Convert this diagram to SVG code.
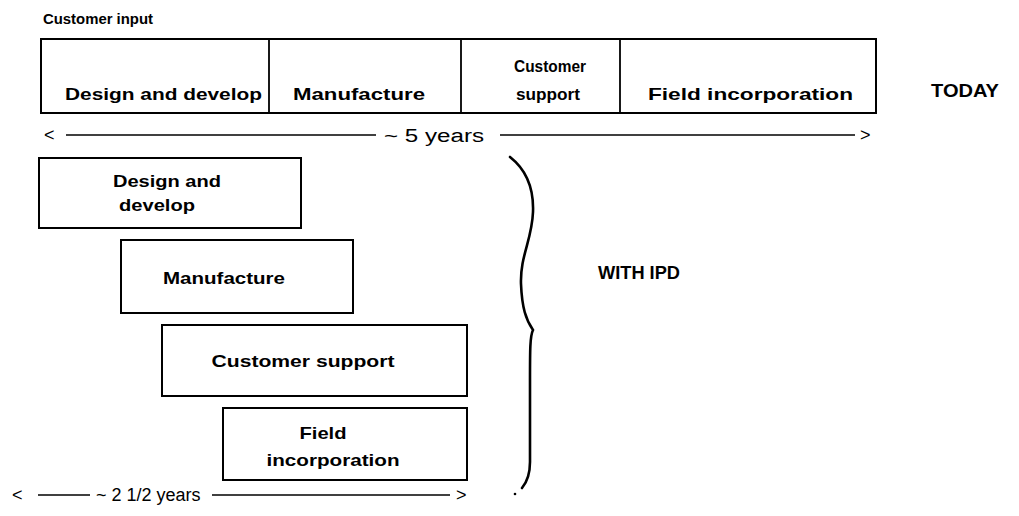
<svg xmlns="http://www.w3.org/2000/svg" width="1019" height="516" viewBox="0 0 1019 516">
  <style>
    .box { fill: none; stroke: #000; stroke-width: 2; }
    .div { stroke: #000; stroke-width: 1.8; }
    .lbl { font-family: "Liberation Sans", Arial, sans-serif; font-weight: bold; font-size: 17px; fill: #000; }
    .sm { font-family: "Liberation Sans", Arial, sans-serif; font-weight: bold; font-size: 14px; fill: #000; }
    .span { font-family: "Liberation Sans", Arial, sans-serif; font-size: 18px; fill: #000; }
    .big { font-family: "Liberation Sans", Arial, sans-serif; font-weight: bold; font-size: 18px; fill: #000; }
    .rule { stroke: #000; stroke-width: 1.6; fill: none; }
    .brace { stroke: #000; stroke-width: 2.6; fill: none; stroke-linecap: round; }
  </style>
  <rect width="1019" height="516" fill="#fff"/>

  <!-- current sequential process -->
  <g id="today-bar">
    <text class="sm" x="43" y="24" textLength="110" lengthAdjust="spacingAndGlyphs">Customer input</text>
    <rect class="box" x="41" y="39" width="835" height="74"/>
    <line class="div" x1="269" y1="39" x2="269" y2="113"/>
    <line class="div" x1="461" y1="39" x2="461" y2="113"/>
    <line class="div" x1="620" y1="39" x2="620" y2="113"/>
    <text class="lbl" x="65" y="100" textLength="197" lengthAdjust="spacingAndGlyphs">Design and develop</text>
    <text class="lbl" x="293" y="100" textLength="132" lengthAdjust="spacingAndGlyphs">Manufacture</text>
    <text class="lbl" x="514" y="72" textLength="72" lengthAdjust="spacingAndGlyphs">Customer</text>
    <text class="lbl" x="516" y="100" textLength="64" lengthAdjust="spacingAndGlyphs">support</text>
    <text class="lbl" x="648" y="100" textLength="205" lengthAdjust="spacingAndGlyphs">Field incorporation</text>
  </g>
  <text id="today-label" class="big" x="931" y="97" textLength="68" lengthAdjust="spacingAndGlyphs">TODAY</text>

  <!-- duration of the sequential process -->
  <g id="span-5yr">
    <text class="span" x="44" y="141">&lt;</text>
    <line class="rule" x1="66" y1="135" x2="376" y2="135"/>
    <text class="span" x="384" y="142" font-size="20" textLength="100" lengthAdjust="spacingAndGlyphs">~ 5 years</text>
    <line class="rule" x1="500" y1="135" x2="855" y2="135"/>
    <text class="span" x="860" y="141">&gt;</text>
  </g>

  <!-- overlapping phases -->
  <g id="ipd-design">
    <rect class="box" x="39" y="158" width="262" height="70"/>
    <text class="lbl" x="167" y="187" text-anchor="middle" textLength="108" lengthAdjust="spacingAndGlyphs">Design and</text>
    <text class="lbl" x="157" y="211" text-anchor="middle" textLength="76" lengthAdjust="spacingAndGlyphs">develop</text>
  </g>
  <g id="ipd-manufacture">
    <rect class="box" x="121" y="240" width="232" height="73"/>
    <text class="lbl" x="224" y="284" text-anchor="middle" textLength="122" lengthAdjust="spacingAndGlyphs">Manufacture</text>
  </g>
  <g id="ipd-support">
    <rect class="box" x="162" y="325" width="305" height="71"/>
    <text class="lbl" x="303" y="367" text-anchor="middle" textLength="183" lengthAdjust="spacingAndGlyphs">Customer support</text>
  </g>
  <g id="ipd-field">
    <rect class="box" x="223" y="408" width="244" height="72"/>
    <text class="lbl" x="323" y="439" text-anchor="middle" textLength="47" lengthAdjust="spacingAndGlyphs">Field</text>
    <text class="lbl" x="333" y="466" text-anchor="middle" textLength="133" lengthAdjust="spacingAndGlyphs">incorporation</text>
  </g>

  <!-- brace grouping the overlapped phases -->
  <g id="connectors">
    <path class="brace" d="M510,157 C524,168 534,186 533,212 C532,240 520,256 521,284 C522,308 526,320 533,330 C530,336 530,350 530,380 L530,462 C530,474 527,482 522,488"/>
    <circle cx="515" cy="494" r="1.3" fill="#000"/>
  </g>
  <text id="ipd-label" class="big" x="598" y="279" textLength="82" lengthAdjust="spacingAndGlyphs">WITH IPD</text>

  <!-- duration with overlapped phases -->
  <g id="span-2yr">
    <text class="span" x="12" y="501">&lt;</text>
    <line class="rule" x1="38" y1="495" x2="90" y2="495"/>
    <text class="span" x="96" y="501">~ 2 1/2 years</text>
    <line class="rule" x1="212" y1="495" x2="450" y2="495"/>
    <text class="span" x="456" y="501">&gt;</text>
  </g>
</svg>
